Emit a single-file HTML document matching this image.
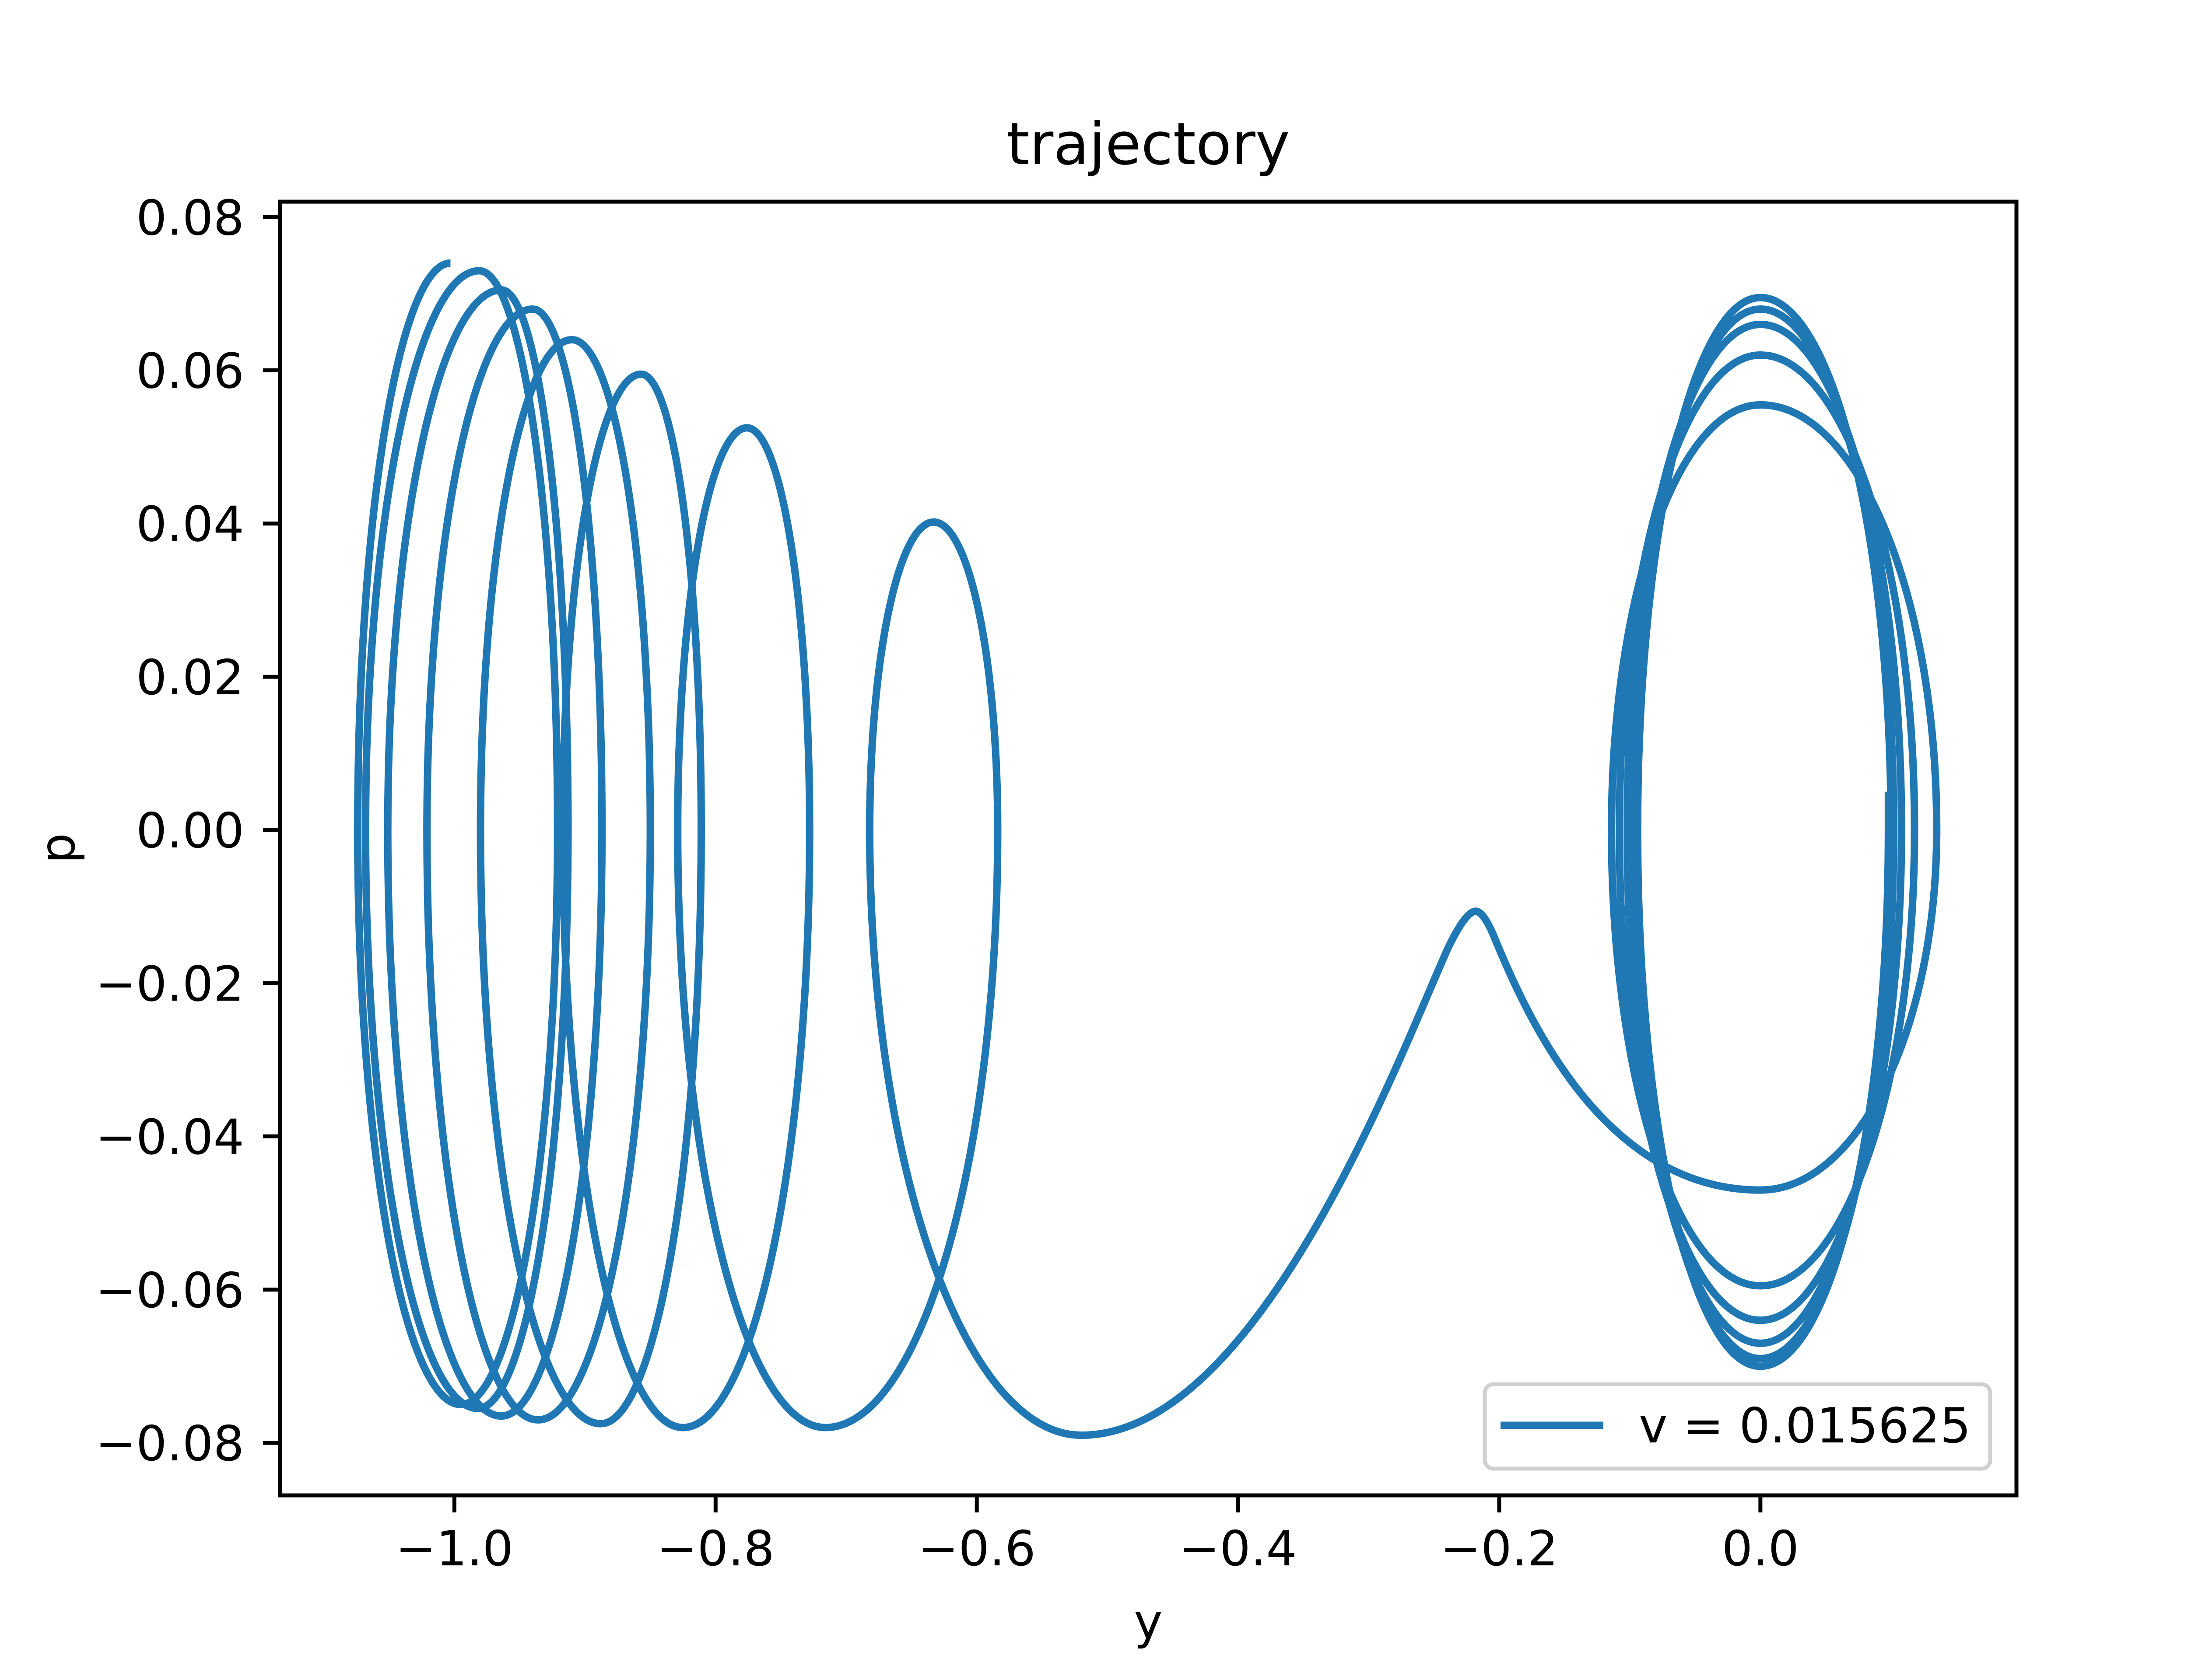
<!DOCTYPE html>
<html><head><meta charset="utf-8"><style>
html,body{margin:0;padding:0;background:#fff}
svg{display:block;font-family:"DejaVu Sans","Liberation Sans",sans-serif}
</style></head><body>
<svg id="chart" width="5120" height="3840" viewBox="0 0 5120 3840" xmlns="http://www.w3.org/2000/svg">
<rect x="0" y="0" width="5120" height="3840" fill="#fff"/>
<text x="2624" y="375" font-size="133" text-anchor="middle" fill="#000">trajectory</text>
<g id="plot"></g>
<rect x="640" y="461" width="3968" height="2957" fill="none" stroke="#000" stroke-width="9"/>
<g id="ticks"></g>
<text x="2624" y="3745" font-size="111" text-anchor="middle">y</text>
<text x="170" y="1939" font-size="111" text-anchor="middle" transform="rotate(-90 170 1939)">p</text>
<g>
<rect x="3393" y="3164" width="1155" height="193" rx="20" fill="#fff" fill-opacity="0.8" stroke="#d0d0d0" stroke-width="9"/>
<line x1="3429" y1="3258" x2="3664" y2="3258" stroke="#1f77b4" stroke-width="17"/>
<text x="3745" y="3297" font-size="111">v = 0.015625</text>
</g>
</svg>
<script>
// Key points of the trajectory (y, p) with tangent type: h = p extreme, v = turning point
const ptY = [-1.003,-1.074,-0.995,-0.921,-0.981,-1.068,-0.982,-0.913,-0.964,-1.051,-0.964,-0.887,-0.940,-1.021,-0.936,-0.850,-0.910,-0.980,-0.888,-0.811,-0.857,-0.917,-0.825,-0.728,-0.776,-0.829,-0.716,-0.584,-0.633,-0.682,-0.520];
const ptP = [0.074,0,-0.075,0,0.073,0,-0.0755,0,0.0705,0,-0.0765,0,0.068,0,-0.077,0,0.064,0,-0.0775,0,0.0595,0,-0.078,0,0.0525,0,-0.078,0,0.0402,0,-0.079];
const ptT = ['h','v','h','v','h','v','h','v','h','v','h','v','h','v','h','v','h','v','h','v','h','v','h','v','h','v','h','v','h','v','h'];
const hillY = -0.218, hillP = -0.0106;
// right well: bottom, right, top, left ...
const rwY = [0,0.135,0,-0.114,0,0.118,0,-0.108,0,0.108,0,-0.102,0,0.102,0,-0.097,0,0.100,0,-0.094,0,0.098];
const rwP = [-0.047,0,0.0555,0,-0.0595,0,0.062,0,-0.064,0,0.066,0,-0.067,0,0.068,0,-0.069,0,0.0695,0,-0.070,0];
const xTicks = [-1.0,-0.8,-0.6,-0.4,-0.2,0.0];
const yTicks = [-0.08,-0.06,-0.04,-0.02,0.00,0.02,0.04,0.06,0.08];
const S = 5120/1568;
function X(v){return (1232+914*v)*S;}
function Y(p){return (581-p*429/0.08)*S;}
const NS='http://www.w3.org/2000/svg';
const K=0.5523;
function seg(x0,y0,t0,x1,y1){
  if(t0==='h') return `C${x0+K*(x1-x0)},${y0} ${x1},${y1+K*(y0-y1)} ${x1},${y1}`;
  return `C${x0},${y0+K*(y1-y0)} ${x1+K*(x0-x1)},${y1} ${x1},${y1}`;
}
let d=`M${X(ptY[0])},${Y(ptP[0])}`;
for(let i=1;i<ptY.length;i++) d+=seg(X(ptY[i-1]),Y(ptP[i-1]),ptT[i-1],X(ptY[i]),Y(ptP[i]));
// valley to hill to right well
const bx=X(ptY[ptY.length-1]), by=Y(ptP[ptP.length-1]), hx=X(hillY), hy=Y(hillP);
const mx=hx-(hx-bx)*0.07, my=hy+(by-hy)*0.07;
d+=`C${bx+(hx-bx)*0.45},${by} ${mx-(hx-bx)*0.12},${my+(by-hy)*0.2} ${mx},${my}`;
d+=`Q${hx-(hx-bx)*0.025},${hy} ${hx},${hy}`;
const r0x=X(rwY[0]), r0y=Y(rwP[0]);
const nx=hx+(r0x-hx)*0.06, ny=hy+(r0y-hy)*0.08;
d+=`Q${hx+(r0x-hx)*0.025},${hy} ${nx},${ny}`;
d+=`C${nx+(r0x-hx)*0.12},${ny+(r0y-hy)*0.3} ${hx+(r0x-hx)*0.45},${r0y} ${r0x},${r0y}`;
for(let i=1;i<rwY.length;i++){
  const t=(i-1)%2===0?'h':'v';
  d+=seg(X(rwY[i-1]),Y(rwP[i-1]),t,X(rwY[i]),Y(rwP[i]));
}
d+=`L${X(rwY[rwY.length-1])},${Y(0.005)}`;
const path=document.createElementNS(NS,'path');
path.setAttribute('d',d);
path.setAttribute('fill','none');
path.setAttribute('stroke','#1f77b4');
path.setAttribute('stroke-width','17');
path.setAttribute('stroke-linejoin','round');


document.getElementById('plot').appendChild(path);
const tg=document.getElementById('ticks');
function fmt(v,dg){const s=Math.abs(v).toFixed(dg);return (v<-1e-9?'\u2212':'')+s;}
xTicks.forEach(v=>{
  const l=document.createElementNS(NS,'line');
  l.setAttribute('x1',X(v));l.setAttribute('x2',X(v));l.setAttribute('y1',3418);l.setAttribute('y2',3457);
  l.setAttribute('stroke','#000');l.setAttribute('stroke-width','9');
  
  
  tg.appendChild(l);
  const t=document.createElementNS(NS,'text');
  t.setAttribute('x',X(v));t.setAttribute('y',3578);t.setAttribute('font-size','111');t.setAttribute('text-anchor','middle');
  t.textContent=fmt(v,1);
  
  
  tg.appendChild(t);
});
yTicks.forEach(v=>{
  const l=document.createElementNS(NS,'line');
  l.setAttribute('x1',601);l.setAttribute('x2',640);l.setAttribute('y1',Y(v));l.setAttribute('y2',Y(v));
  l.setAttribute('stroke','#000');l.setAttribute('stroke-width','9');
  
  
  tg.appendChild(l);
  const t=document.createElementNS(NS,'text');
  t.setAttribute('x',558);t.setAttribute('y',Y(v)+40);t.setAttribute('font-size','111');t.setAttribute('text-anchor','end');
  t.textContent=fmt(v,2);
  
  
  tg.appendChild(t);
});
</script>
</body></html>
